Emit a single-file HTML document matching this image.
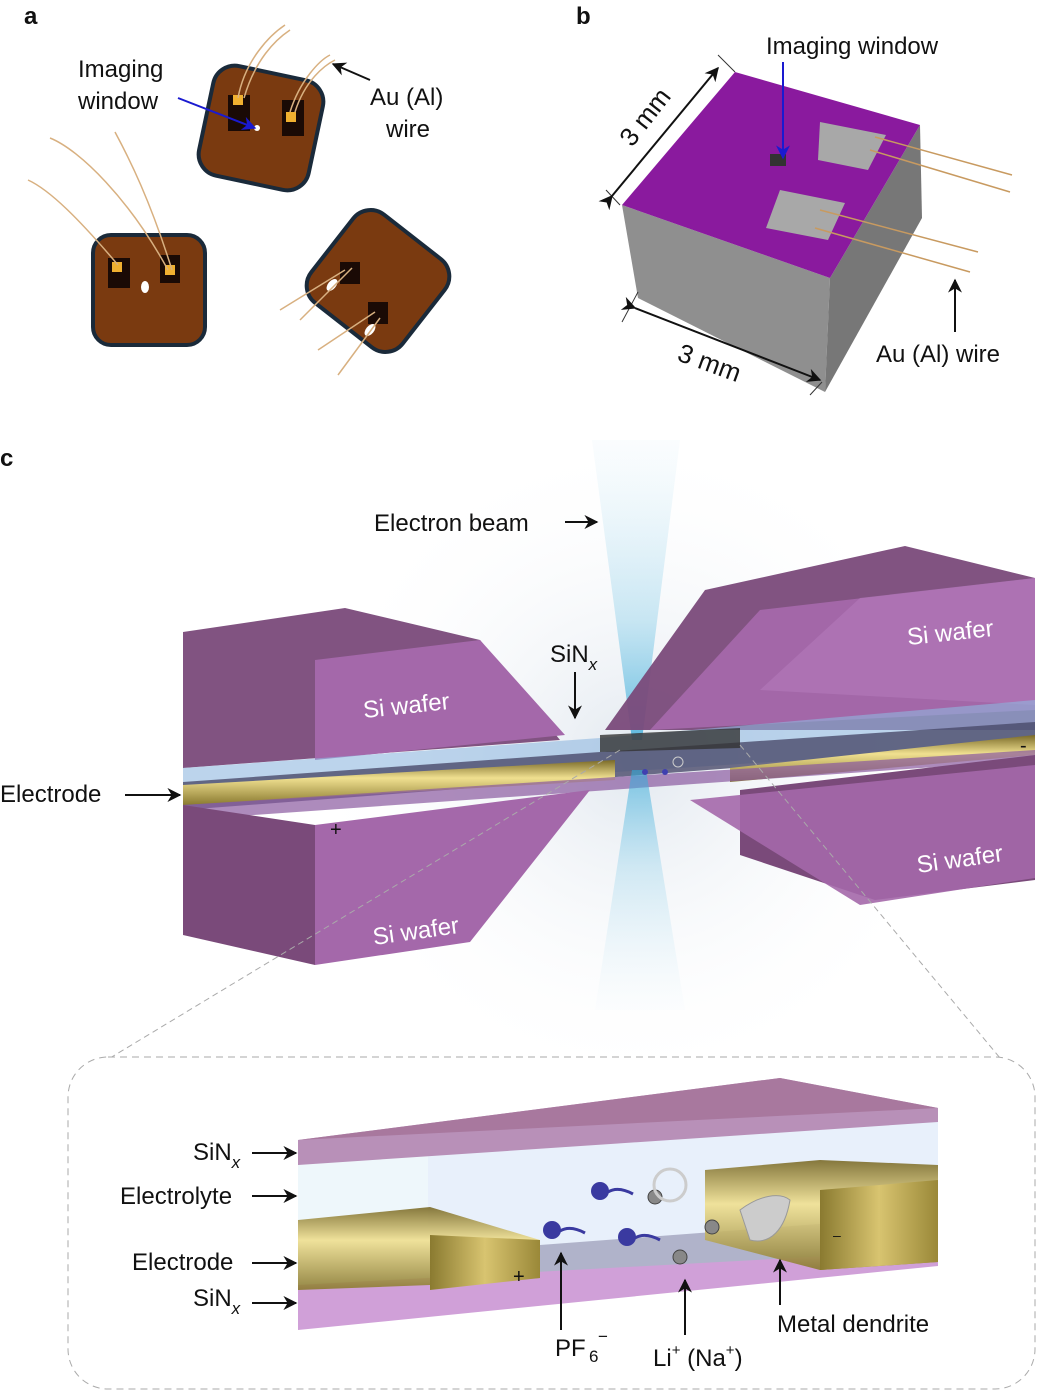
<!DOCTYPE html>
<html><head><meta charset="utf-8"><style>
body{margin:0;background:#fff}
svg{display:block}
text{font-family:"Liberation Sans",sans-serif;fill:#111}
</style></head><body>
<svg width="1037" height="1391" viewBox="0 0 1037 1391" xmlns="http://www.w3.org/2000/svg">
<defs>
<radialGradient id="glow" cx="0.5" cy="0.5" r="0.5"><stop offset="0" stop-color="#dfe6ee" stop-opacity="0.9"/><stop offset="1" stop-color="#fff" stop-opacity="0"/></radialGradient>
<linearGradient id="beam" x1="0" y1="0" x2="0" y2="1"><stop offset="0" stop-color="#dff0f8" stop-opacity="0.2"/><stop offset="0.6" stop-color="#8fd0ea" stop-opacity="0.6"/><stop offset="1" stop-color="#2fa8d8"/></linearGradient>
<linearGradient id="beam2" x1="0" y1="1" x2="0" y2="0"><stop offset="0" stop-color="#dff0f8" stop-opacity="0.1"/><stop offset="0.6" stop-color="#8fd0ea" stop-opacity="0.6"/><stop offset="1" stop-color="#2fa8d8"/></linearGradient>
<linearGradient id="gold" x1="0" y1="0" x2="0" y2="1"><stop offset="0" stop-color="#7a6a28"/><stop offset="0.4" stop-color="#f0e090"/><stop offset="1" stop-color="#8a7a30"/></linearGradient>
<linearGradient id="gold2" x1="0" y1="0" x2="1" y2="0"><stop offset="0" stop-color="#8a7a30"/><stop offset="0.5" stop-color="#d8c470"/><stop offset="1" stop-color="#9a8838"/></linearGradient>
<marker id="ar" viewBox="0 0 10 10" refX="9" refY="5" markerWidth="7" markerHeight="7" orient="auto"><path d="M0,0 L10,5 L0,10 L3,5z" fill="#111"/></marker>
<marker id="ab" viewBox="0 0 10 10" refX="9" refY="5" markerWidth="7" markerHeight="7" orient="auto"><path d="M0,0 L10,5 L0,10 L3,5z" fill="#1a1ad0"/></marker>
</defs>

<!-- Panel a -->
<text x="24" y="24" font-size="24" font-weight="bold">a</text>
<g>
 <rect x="205" y="72" width="112" height="112" rx="22" fill="#7a3a10" stroke="#1a2a3a" stroke-width="4" transform="rotate(12 261 128)"/>
 <rect x="228" y="95" width="22" height="36" fill="#1a0a05"/><rect x="282" y="100" width="22" height="36" fill="#1a0a05"/>
 <rect x="233" y="95" width="10" height="10" fill="#f0b030"/><rect x="286" y="112" width="10" height="10" fill="#f0b030"/>
 <circle cx="257" cy="128" r="3" fill="#fff"/>
 <path d="M238,98 C245,60 270,35 285,25 M244,98 C255,60 275,40 290,30 M290,112 C300,80 320,60 330,55 M295,112 C305,80 325,65 335,60" stroke="#d8b080" fill="none" stroke-width="1.5"/>
 <rect x="93" y="235" width="112" height="110" rx="18" fill="#7a3a10" stroke="#1a2a3a" stroke-width="4"/>
 <rect x="108" y="258" width="22" height="30" fill="#1a0a05"/><rect x="160" y="255" width="20" height="28" fill="#1a0a05"/>
 <rect x="112" y="262" width="10" height="10" fill="#f0b030"/><rect x="165" y="265" width="10" height="10" fill="#f0b030"/>
 <ellipse cx="145" cy="287" rx="4" ry="6" fill="#fff"/>
 <path d="M118,265 C80,220 50,190 28,180 M168,270 C130,200 80,150 50,138 M172,270 C150,200 130,160 115,132" stroke="#d8b080" fill="none" stroke-width="1.5"/>
 <rect x="320" y="225" width="116" height="112" rx="22" fill="#7a3a10" stroke="#1a2a3a" stroke-width="4" transform="rotate(38 378 281)"/>
 <rect x="340" y="262" width="20" height="22" fill="#1a0a05"/><rect x="368" y="302" width="20" height="22" fill="#1a0a05"/>
 <ellipse cx="332" cy="285" rx="4" ry="7" fill="#fff" transform="rotate(40 332 285)"/>
 <ellipse cx="370" cy="330" rx="4" ry="7" fill="#fff" transform="rotate(40 370 330)"/>
 <path d="M345,270 L280,310 M352,268 L300,320 M375,312 L318,350 M380,318 L338,375" stroke="#d8b080" fill="none" stroke-width="1.5"/>
</g>
<text x="78" y="77" font-size="24">Imaging</text>
<text x="78" y="109" font-size="24">window</text>
<line x1="178" y1="98" x2="255" y2="128" stroke="#1a1ad0" stroke-width="2" marker-end="url(#ab)"/>
<text x="370" y="105" font-size="24">Au (Al)</text>
<text x="386" y="137" font-size="24">wire</text>
<line x1="370" y1="80" x2="333" y2="64" stroke="#111" stroke-width="2" marker-end="url(#ar)"/>

<!-- Panel b -->
<text x="576" y="24" font-size="24" font-weight="bold">b</text>
<polygon points="622,205 830,278 825,392 638,298" fill="#8f8f8f"/>
<polygon points="830,278 920,125 922,218 825,392" fill="#777"/>
<polygon points="622,205 735,72 920,125 830,278" fill="#8a1a9e"/>
<polygon points="820,122 886,135 868,170 818,160" fill="#a8a8a8"/>
<polygon points="780,190 845,203 828,240 766,228" fill="#a8a8a8"/>
<rect x="770" y="154" width="16" height="12" fill="#333"/>
<path d="M875,137 L1012,175 M870,150 L1010,192 M820,210 L978,252 M815,228 L970,272" stroke="#c89a60" stroke-width="1.5" fill="none"/>
<text x="766" y="54" font-size="24">Imaging window</text>
<line x1="783" y1="62" x2="783" y2="158" stroke="#1a1ad0" stroke-width="2" marker-end="url(#ab)"/>
<line x1="606" y1="190" x2="620" y2="205" stroke="#333"/><line x1="718" y1="55" x2="735" y2="72" stroke="#333"/>
<line x1="612" y1="196" x2="718" y2="68" stroke="#111" stroke-width="2" marker-end="url(#ar)" marker-start="url(#ar)"/>
<text x="0" y="0" font-size="26" transform="translate(632,148) rotate(-52)">3 mm</text>
<line x1="622" y1="322" x2="638" y2="292" stroke="#333"/><line x1="822" y1="382" x2="810" y2="395" stroke="#333"/>
<line x1="635" y1="308" x2="820" y2="380" stroke="#111" stroke-width="2" marker-end="url(#ar)" marker-start="url(#ar)"/>
<text x="0" y="0" font-size="26" transform="translate(676,360) rotate(20)">3 mm</text>
<line x1="955" y1="332" x2="955" y2="280" stroke="#111" stroke-width="2" marker-end="url(#ar)"/>
<text x="876" y="362" font-size="24">Au (Al) wire</text>

<!-- Panel c -->
<text x="0" y="466" font-size="24" font-weight="bold">c</text>
<ellipse cx="635" cy="760" rx="330" ry="330" fill="url(#glow)"/>
<polygon points="592,440 680,440 642,740 632,740" fill="url(#beam)" opacity="0.75"/>
<!-- left upper block -->
<polygon points="183,632 345,608 480,640 560,740 183,768" fill="#7a4a7a" opacity="0.95"/>
<polygon points="315,660 480,640 565,735 315,760" fill="#a468aa"/>
<!-- right upper block -->
<polygon points="605,730 705,590 905,546 1035,578 1035,730" fill="#7a4a7a" opacity="0.95"/>
<polygon points="650,730 760,610 1035,578 1035,710" fill="#a468aa" opacity="0.95"/>
<polygon points="860,598 1035,578 1035,705 760,690" fill="#b078b8" opacity="0.7"/>
<!-- layers -->
<polygon points="183,768 600,738 1035,700 1035,745 183,800" fill="#8fb8e0" opacity="0.6"/>
<polygon points="183,782 600,752 1035,722 1035,745 183,810" fill="#4a4a6a" opacity="0.8"/>
<polygon points="183,785 615,760 615,780 183,805" fill="url(#gold)"/>
<polygon points="730,768 1035,735 1035,755 730,782" fill="url(#gold)"/>
<polygon points="600,735 740,728 740,748 600,752" fill="#333" opacity="0.8"/>
<polygon points="183,805 600,778 1035,750 1035,760 183,820" fill="#8a5aa0" opacity="0.7"/>
<!-- lower blocks -->
<polygon points="183,805 315,825 315,965 183,935" fill="#7a4a7a"/>
<polygon points="315,825 590,790 470,942 315,965" fill="#a468aa"/>
<polygon points="740,790 1035,755 1035,880 875,900 740,855" fill="#7a4a7a"/>
<polygon points="690,800 1035,765 1035,878 860,905" fill="#a468aa" opacity="0.9"/>
<polygon points="632,770 646,770 685,1010 595,1010" fill="url(#beam2)" opacity="0.6"/>
<circle cx="645" cy="772" r="3" fill="#4040b0"/><circle cx="665" cy="772" r="3" fill="#4040b0"/><circle cx="678" cy="762" r="5" fill="none" stroke="#ccc"/>
<text x="330" y="836" font-size="20">+</text><text x="1020" y="752" font-size="20">-</text>
<text x="0" y="0" font-size="24" style="fill:#fff" transform="translate(364,718) rotate(-6)">Si wafer</text>
<text x="0" y="0" font-size="24" style="fill:#fff" transform="translate(908,645) rotate(-6)">Si wafer</text>
<text x="0" y="0" font-size="24" style="fill:#fff" transform="translate(374,945) rotate(-8)">Si wafer</text>
<text x="0" y="0" font-size="24" style="fill:#fff" transform="translate(918,873) rotate(-8)">Si wafer</text>
<text x="374" y="531" font-size="24">Electron beam</text>
<line x1="565" y1="522" x2="597" y2="522" stroke="#111" stroke-width="2" marker-end="url(#ar)"/>
<text x="550" y="662" font-size="24">SiN<tspan font-size="17" font-style="italic" dy="8">x</tspan></text>
<line x1="575" y1="672" x2="575" y2="718" stroke="#111" stroke-width="2" marker-end="url(#ar)"/>
<text x="0" y="802" font-size="24">Electrode</text>
<line x1="125" y1="795" x2="180" y2="795" stroke="#111" stroke-width="2" marker-end="url(#ar)"/>
<!-- inset -->
<line x1="620" y1="750" x2="110" y2="1058" stroke="#aaa" stroke-dasharray="6,4"/>
<line x1="740" y1="745" x2="1000" y2="1058" stroke="#aaa" stroke-dasharray="6,4"/>
<rect x="68" y="1057" width="967" height="332" rx="40" fill="#fff" stroke="#aaa" stroke-dasharray="7,5"/>
<polygon points="298,1140 938,1108 938,1253 298,1310" fill="#e8f0fb"/>
<polygon points="298,1140 428,1132 428,1225 298,1220" fill="#eef7fb"/>
<polygon points="298,1140 780,1078 938,1108 938,1122 298,1165" fill="#b890b8"/>
<polygon points="298,1140 780,1078 938,1108 298,1140" fill="#a8789e"/>
<polygon points="540,1245 938,1215 938,1250 540,1280" fill="#8a8aaa" opacity="0.6"/>
<polygon points="298,1285 938,1250 938,1266 298,1330" fill="#d0a0d8"/>
<polygon points="298,1220 430,1207 540,1240 540,1278 430,1285 298,1290" fill="url(#gold)" opacity="0.9"/>
<polygon points="430,1235 540,1240 540,1278 430,1290" fill="url(#gold2)"/>
<polygon points="705,1170 820,1160 938,1165 938,1262 820,1270 705,1240" fill="url(#gold)" opacity="0.9"/>
<polygon points="820,1190 938,1180 938,1262 820,1270" fill="url(#gold2)"/>
<path d="M740,1210 C760,1195 780,1192 790,1200 C785,1230 770,1245 750,1240 Z" fill="#ccc" stroke="#999"/>
<g fill="#3a3aa0"><circle cx="600" cy="1191" r="9"/><circle cx="552" cy="1230" r="9"/><circle cx="627" cy="1237" r="9"/></g>
<path d="M608,1192 q10,-6 25,2 M560,1231 q10,-6 25,2 M635,1238 q10,-6 25,2" stroke="#3a3aa0" stroke-width="3" fill="none"/>
<g fill="#888" stroke="#444"><circle cx="655" cy="1197" r="7"/><circle cx="680" cy="1257" r="7"/><circle cx="712" cy="1227" r="7"/></g>
<circle cx="670" cy="1185" r="16" fill="none" stroke="#ccc" stroke-width="3"/>
<text x="513" y="1283" font-size="20">+</text><text x="833" y="1240" font-size="14">–</text>
<text x="193" y="1160" font-size="24">SiN<tspan font-size="17" font-style="italic" dy="8">x</tspan></text>
<line x1="252" y1="1153" x2="296" y2="1153" stroke="#111" stroke-width="2" marker-end="url(#ar)"/>
<text x="120" y="1204" font-size="24">Electrolyte</text>
<line x1="252" y1="1196" x2="296" y2="1196" stroke="#111" stroke-width="2" marker-end="url(#ar)"/>
<text x="132" y="1270" font-size="24">Electrode</text>
<line x1="252" y1="1263" x2="296" y2="1263" stroke="#111" stroke-width="2" marker-end="url(#ar)"/>
<text x="193" y="1306" font-size="24">SiN<tspan font-size="17" font-style="italic" dy="8">x</tspan></text>
<line x1="252" y1="1303" x2="296" y2="1303" stroke="#111" stroke-width="2" marker-end="url(#ar)"/>
<line x1="561" y1="1330" x2="561" y2="1253" stroke="#111" stroke-width="2" marker-end="url(#ar)"/>
<text x="555" y="1356" font-size="24">PF</text><text x="589" y="1362" font-size="17">6</text><text x="598" y="1342" font-size="17">−</text>
<line x1="685" y1="1335" x2="685" y2="1280" stroke="#111" stroke-width="2" marker-end="url(#ar)"/>
<text x="653" y="1366" font-size="24">Li<tspan font-size="15" dy="-11">+</tspan><tspan dy="11"> (Na</tspan><tspan font-size="15" dy="-11">+</tspan><tspan dy="11">)</tspan></text>
<line x1="780" y1="1305" x2="780" y2="1260" stroke="#111" stroke-width="2" marker-end="url(#ar)"/>
<text x="777" y="1332" font-size="24">Metal dendrite</text>
</svg>
</body></html>
